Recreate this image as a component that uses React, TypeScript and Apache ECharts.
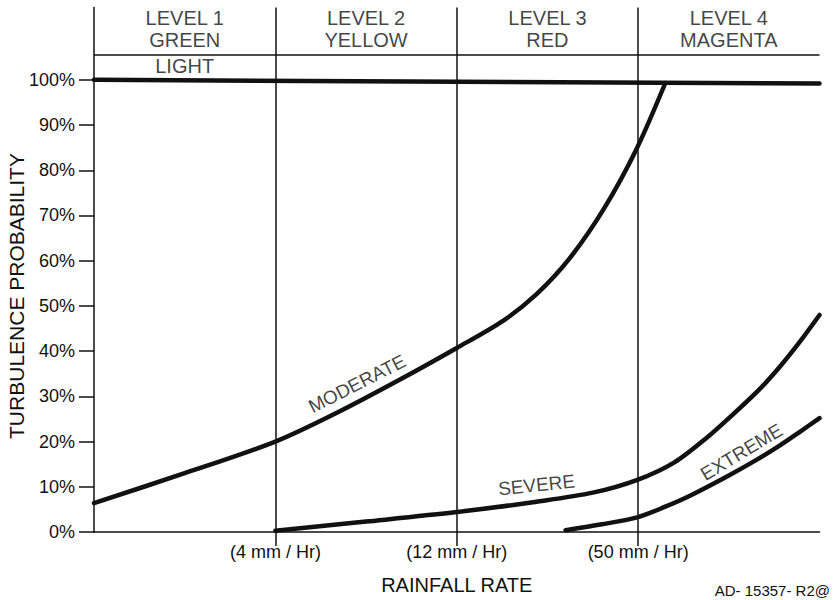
import React, { useEffect, useRef } from "react";
import * as echarts from "echarts";

const levelNames = ["LEVEL 1", "LEVEL 2", "LEVEL 3", "LEVEL 4"];
const levelColors = ["GREEN", "YELLOW", "RED", "MAGENTA"];
const levelCenters = [0.5, 1.5, 2.5, 3.5];

const rateTicks = [1, 2, 3];
const rateLabels = ["(4 mm / Hr)", "(12 mm / Hr)", "(50 mm / Hr)"];
const probTicks = [0, 10, 20, 30, 40, 50, 60, 70, 80, 90, 100];

const lightX = [0, 4];
const lightY = [100, 99.2];
const moderateX = [0, 0.5, 1, 1.35, 1.7, 2, 2.255, 2.44, 2.62, 2.81, 2.99, 3.15];
const moderateY = [6.4, 13.0, 20, 26.6, 34, 40.7, 46.7, 52.6, 60.4, 71.4, 84.6, 99.3];
const severeX = [1, 1.5, 2, 2.44, 2.75, 3, 3.2, 3.38, 3.52, 3.67, 3.78, 3.89, 4];
const severeY = [0.3, 2.3, 4.4, 6.7, 8.7, 11.6, 15.4, 20.9, 25.9, 31.6, 36.5, 42, 48];
const extremeX = [2.6, 2.8, 3, 3.15, 3.28, 3.5, 3.65, 3.78, 3.89, 4];
const extremeY = [0.4, 1.7, 3.3, 5.6, 7.9, 12.5, 15.9, 19.1, 22.1, 25.2];

const curveNames = ["MODERATE", "SEVERE", "EXTREME"];
const curveLabelX = [1.45, 2.44, 3.57];
const curveLabelY = [32.8, 10.4, 17.7];
const curveLabelAngle = [27, 6, 31];

const lightName = "LIGHT";
const lightLabelPos = [0.5, 103];
const headerLineY = 105.5;
const headerLabelY = 111.3;

const FONT = "'Liberation Sans', Arial, Helvetica, sans-serif";
const INK = "#111";

const zip = (xs: number[], ys: number[]) => xs.map((x, i) => [x, ys[i]]);

export default function App() {
  const ref = useRef<HTMLDivElement>(null);
  useEffect(() => {
    if (!ref.current) return;
    const chart = echarts.init(ref.current, undefined, { renderer: "svg" });
    const thick = { color: INK, width: 4.5, cap: "round" as const, join: "round" as const };
    const curve = (name: string, data: number[][]) => ({
      name,
      type: "line",
      data,
      smooth: 0.3,
      symbol: "none",
      lineStyle: thick,
      silent: true,
      z: 5,
    });
    const hiddenItem = { color: "rgba(0,0,0,0)", borderWidth: 0 };
    const option: any = {
      animation: false,
      backgroundColor: "#fff",
      textStyle: { fontFamily: FONT, color: INK },
      grid: { left: 94, right: 13.5, top: 7.5, bottom: 65.5, containLabel: false },
      xAxis: {
        type: "value",
        min: 0,
        max: 4,
        interval: 1,
        axisLine: { show: true, lineStyle: { color: INK, width: 1.5 } },
        axisTick: { show: true, customValues: rateTicks, length: 14, lineStyle: { color: INK, width: 1.5 } },
        axisLabel: {
          customValues: rateTicks,
          formatter: (v: number) => rateLabels[rateTicks.indexOf(v)] ?? "",
          margin: 11,
          fontSize: 18,
          color: INK,
          fontFamily: FONT,
        },
        splitLine: { show: true, lineStyle: { color: INK, width: 1.5 } },
        name: "RAINFALL RATE",
        nameLocation: "middle",
        nameGap: 43,
        nameTextStyle: { fontSize: 20, color: INK, fontFamily: FONT },
      },
      yAxis: {
        type: "value",
        min: 0,
        max: 116,
        interval: 10,
        axisLine: { show: true, lineStyle: { color: INK, width: 1.5 } },
        axisTick: { show: true, customValues: probTicks, length: 15, lineStyle: { color: INK, width: 1.5 } },
        axisLabel: {
          customValues: probTicks,
          formatter: (v: number) => v + "%",
          margin: 19,
          fontSize: 18,
          color: INK,
          fontFamily: FONT,
        },
        splitLine: { show: false },
      },
      graphic: [
        {
          type: "text",
          x: 16,
          y: 296,
          rotation: Math.PI / 2,
          style: {
            text: "TURBULENCE PROBABILITY",
            fontSize: 21,
            fontFamily: FONT,
            fill: INK,
            align: "center",
            verticalAlign: "middle",
          },
        },
        {
          type: "text",
          right: 3,
          top: 583,
          style: { text: "AD- 15357- R2@", fontSize: 15, fontFamily: FONT, fill: INK },
        },
      ],
      series: [
        {
          name: "header",
          type: "line",
          data: [
            [0, headerLineY],
            [4, headerLineY],
          ],
          symbol: "none",
          lineStyle: { color: INK, width: 1.5 },
          silent: true,
        },
        curve(lightName, zip(lightX, lightY)),
        curve("MODERATE", zip(moderateX, moderateY)),
        curve("SEVERE", zip(severeX, severeY)),
        curve("EXTREME", zip(extremeX, extremeY)),
        {
          name: "levels",
          type: "scatter",
          symbolSize: 1,
          itemStyle: hiddenItem,
          silent: true,
          z: 10,
          data: levelCenters.map((x, i) => ({
            value: [x, headerLabelY],
            label: { formatter: levelNames[i] + "\n" + levelColors[i] },
          })),
          label: {
            show: true,
            position: "inside",
            fontSize: 20,
            lineHeight: 21.5,
            color: INK,
            fontFamily: FONT,
            align: "center",
            verticalAlign: "middle",
          },
        },
        {
          name: "curveLabels",
          type: "scatter",
          symbolSize: 1,
          itemStyle: hiddenItem,
          silent: true,
          z: 10,
          data: [
            {
              value: lightLabelPos,
              label: { formatter: lightName, rotate: 0, fontSize: 20 },
            },
            ...curveNames.map((n, i) => ({
              value: [curveLabelX[i], curveLabelY[i]],
              label: { formatter: n, rotate: curveLabelAngle[i] },
            })),
          ],
          label: {
            show: true,
            position: "inside",
            fontSize: 19,
            color: INK,
            fontFamily: FONT,
            align: "center",
            verticalAlign: "middle",
          },
        },
      ],
    };
    chart.setOption(option);
    return () => chart.dispose();
  }, []);
  return (
    <div
      ref={ref}
      style={{ position: "fixed", left: 0, top: 0, width: 833, height: 600, background: "#fff" }}
    />
  );
}
